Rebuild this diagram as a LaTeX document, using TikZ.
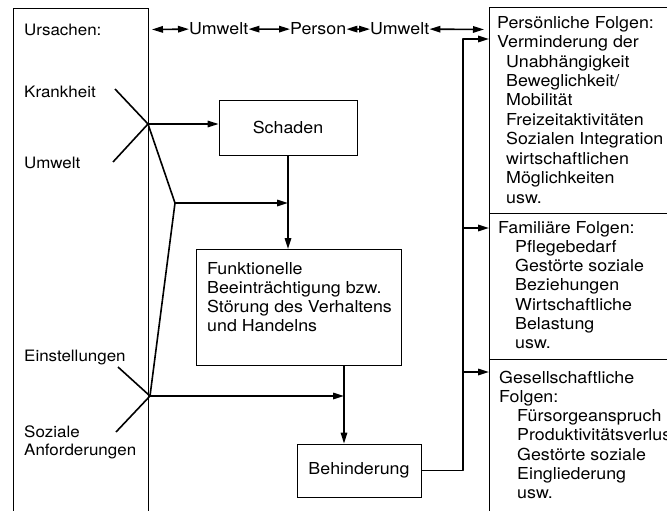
\documentclass[tikz,border=0pt]{standalone}
\usepackage{fontspec}
\setmainfont{TeX Gyre Heros}[FakeStretch=1.08]
\usetikzlibrary{arrows.meta}

\begin{document}
\begin{tikzpicture}[x=1pt,y=-1pt,
	txt/.style={anchor=base west,inner sep=0pt,font={\fontsize{16.5}{19}\selectfont}},
	cause/.style={txt,font={\fontsize{15.7}{19}\selectfont}},
	frame/.style={draw,line width=0.8pt,inner sep=0pt,font={\fontsize{16.5}{19}\selectfont}},
	con/.style={line width=1.6pt,line join=round},
	arr/.style={con,-{Triangle[length=11pt,width=6.5pt]}},
	dbl/.style={con,{Triangle[length=11pt,width=6.5pt]}-{Triangle[length=11pt,width=6.5pt]}}]
	\useasboundingbox (0,0) rectangle (667,511);
	\node[frame,anchor=north west,minimum width=135,minimum height=515] (ursachen) at (13,8) {};
	\node[frame,anchor=north west,minimum width=200,minimum height=206] (pers) at (489,7) {};
	\node[frame,anchor=north west,minimum width=200,minimum height=146] (fam) at (489,213) {};
	\node[frame,anchor=north west,minimum width=200,minimum height=160] (ges) at (489,359) {};
	\node[frame,minimum width=138,minimum height=55] (schaden) at (288,127.5) {Schaden};
	\node[frame,anchor=north west,minimum width=205,minimum height=116] (funk) at (196,249) {};
	\node[frame,minimum width=124,minimum height=53] (beh) at (359,470.5) {Behinderung};
	\foreach \T/\Y [count=\i] in {Ursachen:/36, Krankheit/97, Umwelt/168, Einstellungen/361, Soziale/437, Anforderungen/455}
	{\node[cause] (c\i) at (24,\Y) {\T};}
	\foreach \T [count=\i from 0] in {Funktionelle, Beeinträchtigung bzw., Störung des Verhaltens, und Handelns}
	{\node[txt] (f\i) at (207,274+19.2*\i) {\T};}
	\foreach \X/\T [count=\i from 0] in {0/Persönliche Folgen:, 0/Verminderung der, 9/Unabhängigkeit, 9/{Beweglichkeit/}, 9/Mobilität, 9/Freizeitaktivitäten, 9/Sozialen Integration, 9/wirtschaftlichen, 9/Möglichkeiten, 9/usw.}
	{\node[txt] (p\i) at (497+\X,28.4+19.4*\i) {\T};}
	\foreach \X/\T [count=\i from 0] in {0/Familiäre Folgen:, 17/Pflegebedarf, 17/Gestörte soziale, 17/Beziehungen, 17/Wirtschaftliche, 17/Belastung, 17/usw.}
	{\node[txt] (a\i) at (498+\X,233+19.3*\i) {\T};}
	\foreach \X/\T [count=\i from 0] in {0/Gesellschaftliche, 0/Folgen:, 18/Fürsorgeanspruch, 18/Produktivitätsverlust, 18/Gestörte soziale, 18/Eingliederung, 18/usw.}
	{\node[txt] (g\i) at (499+\X,383+19.3*\i) {\T};}
	\node[txt] (u1) at (189,35) {Umwelt};
	\node[txt] (pe) at (290,35) {Person};
	\node[txt] (u2) at (370,35) {Umwelt};
	\coordinate (t0) at (152,29.5);
	\coordinate (t4) at (484,29.5);
	\draw[dbl] (t0) -- (u1.west);
	\draw[dbl] (u1.east) -- (pe.west);
	\draw[dbl] (pe.east) -- (u2.west);
	\draw[dbl] (u2.east) -- (t4);
	\coordinate (j1) at (148,124);
	\coordinate (j2) at (175,203);
	\coordinate (j3) at (150,396);
	\coordinate (k) at (115,89);
	\coordinate (w) at (113,162);
	\coordinate (e) at (118,367);
	\coordinate (s) at (116,432);
	\coordinate (fb) at (344,365);
	\coordinate (bus) at (463,39);
	\coordinate (b2) at (463,228);
	\coordinate (b3) at (463,372);
	\draw[con] (k) -- (j1) -- (w);
	\draw[arr] (j1) -- (j1 -| schaden.west);
	\draw[con] (j1) -- (j2) -- (j3);
	\draw[arr] (j2) -- (j2 -| schaden.south);
	\draw[arr] (schaden.south) -- (schaden.south |- funk.north);
	\draw[con] (e) -- (j3) -- (s);
	\draw[arr] (j3) -- (j3 -| fb);
	\draw[arr] (fb) -- (fb |- beh.north);
	\draw[arr] (beh.east) -| (bus) -- (bus -| pers.west);
	\draw[arr] (b2) -- (b2 -| fam.west);
	\draw[arr] (b3) -- (b3 -| ges.west);
\end{tikzpicture}
\end{document}
